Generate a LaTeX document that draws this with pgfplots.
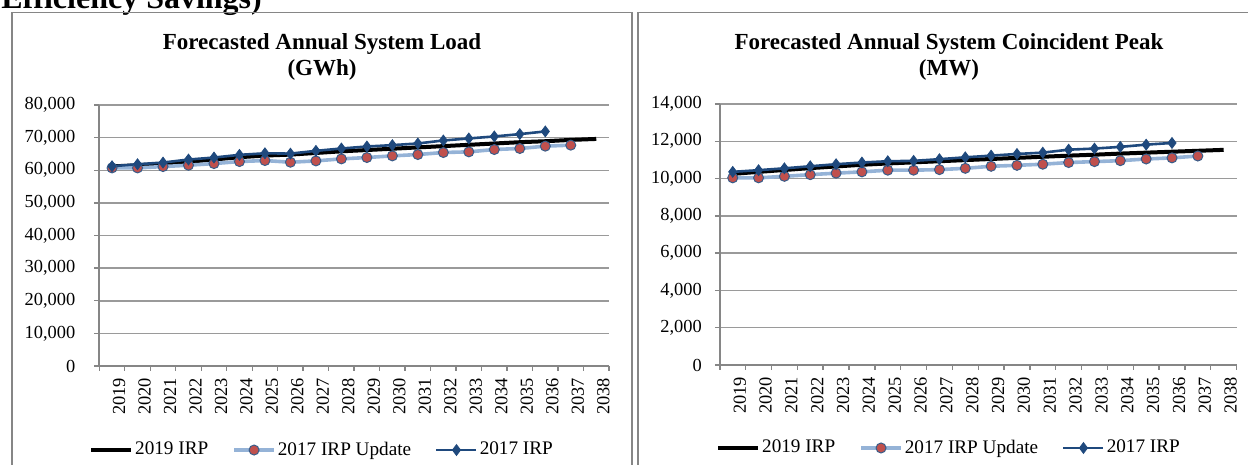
\documentclass[border=0pt]{standalone}
\usepackage{fontspec}
\setmainfont{Liberation Serif}
\usepackage{pgfplots}
\pgfplotsset{compat=1.18}
\definecolor{axisgray}{HTML}{868686}
\definecolor{gridgray}{HTML}{9A9A9A}
\definecolor{updline}{HTML}{95B3D7}
\definecolor{updmark}{HTML}{C0504D}
\definecolor{updedge}{HTML}{385D8A}
\definecolor{irpold}{HTML}{1F497D}

\pgfplotsset{
  irpchart/.style={
    scale only axis,
    xmin=-0.5, xmax=19.5, ymin=0,
    axis x line*=bottom, axis y line*=left,
    axis line style={axisgray, line width=0.8pt},
    ymajorgrids, grid style={gridgray, line width=0.75pt},
    xtick={0,...,19},
    xticklabels={2019,2020,2021,2022,2023,2024,2025,2026,2027,2028,2029,2030,2031,2032,2033,2034,2035,2036,2037,2038},
    xtick style={draw=none},
    extra x ticks={-0.5,0.5,1.5,2.5,3.5,4.5,5.5,6.5,7.5,8.5,9.5,10.5,11.5,12.5,13.5,14.5,15.5,16.5,17.5,18.5,19.5},
    extra x tick labels={},
    extra x tick style={xtick style={draw=axisgray, line width=0.7pt}},
    tick align=outside, major tick length=2.5pt,
    ytick style={draw=axisgray, line width=0.7pt},
    xticklabel style={rotate=90, anchor=east, font=\fontsize{9.2}{10}\selectfont, yshift=-3.5pt},
    yticklabel style={font=\fontsize{9.2}{10}\selectfont},
    scaled y ticks=false,
    /pgf/number format/1000 sep={,},
    /pgf/number format/assume math mode=true,
    legend columns=3,
    legend style={draw=none, fill=none, anchor=center,
      font=\fontsize{9.6}{11}\selectfont,
      /tikz/every even column/.append style={column sep=11pt},
      nodes={inner sep=1pt}},
    legend image code/.code={\draw[mark repeat=2,mark phase=2,##1] plot coordinates {(0pt,0pt) (10pt,0pt) (20pt,0pt)};},
  },
  newirp/.style={black, line width=2pt, no marks},
  updirp/.style={updline, line width=1.8pt, mark=*, mark size=2.5pt,
    mark options={fill=updmark, draw=updedge, line width=0.5pt}},
  oldirp/.style={irpold, line width=1.3pt, mark=diamond*, mark size=2.7pt,
    mark options={fill=irpold, draw=irpold, line width=0.4pt}},
}

\begin{document}
\begin{tikzpicture}[x=1pt,y=1pt]
\useasboundingbox (0,0) rectangle (624,232.5);
\clip (0,0) rectangle (624,232.5);

\node[anchor=base west, inner sep=0pt, font=\fontsize{16}{18}\selectfont\bfseries] at (0.5,228.35) {Efficiency Savings)};

\draw[axisgray, line width=0.8pt] (6,226.15) rectangle (316,-10);
\draw[axisgray, line width=0.8pt] (319,226.15) rectangle (630,-10);

% left chart
\node[anchor=base, inner sep=0pt, font=\fontsize{11.5}{13}\selectfont\bfseries] at (161,207.85) {Forecasted Annual System Load};
\node[anchor=base, inner sep=0pt, font=\fontsize{11.5}{13}\selectfont\bfseries] at (161,194.5) {(GWh)};

\begin{axis}[irpchart,
    at={(49.65pt,49.5pt)}, anchor=south west,
    width=254.85pt, height=130.5pt,
    ymax=80000, ytick={0,10000,20000,30000,40000,50000,60000,70000,80000},
    yticklabel style={xshift=-6pt},
    legend style={at={(0.437,-0.322)}}]
  \addplot[newirp] coordinates {(0,61200)(1,61500)(2,62000)(3,62600)(4,63300)(5,64000)(6,64500)(7,64800)(8,65300)(9,65800)(10,66200)(11,66600)(12,67000)(13,67400)(14,67800)(15,68200)(16,68600)(17,68900)(18,69300)(19,69600)};
  \addplot[updirp] coordinates {(0,60720)(1,60720)(2,61130)(3,61540)(4,62050)(5,62670)(6,62980)(7,62460)(8,62870)(9,63490)(10,63900)(11,64410)(12,64820)(13,65440)(14,65640)(15,66360)(16,66670)(17,67390)(18,67700)};
  \addplot[oldirp] coordinates {(0,61230)(1,61850)(2,62360)(3,63280)(4,63900)(5,64720)(6,65200)(7,65100)(8,65950)(9,66670)(10,67280)(11,67700)(12,68210)(13,69130)(14,69750)(15,70360)(16,71080)(17,71900)};
  \legend{2019 IRP, 2017 IRP Update, 2017 IRP}
\end{axis}

% right chart
\node[anchor=base, inner sep=0pt, font=\fontsize{11.5}{13}\selectfont\bfseries] at (474.5,207.85) {Forecasted Annual System Coincident Peak};
\node[anchor=base, inner sep=0pt, font=\fontsize{11.5}{13}\selectfont\bfseries] at (474.5,194.5) {(MW)};

\begin{axis}[irpchart,
    at={(359.9pt,50pt)}, anchor=south west,
    width=258.4pt, height=130.5pt,
    ymax=14000, ytick={0,2000,4000,6000,8000,10000,12000,14000},
    yticklabel style={xshift=-3pt},
    legend style={at={(0.4435,-0.318)}}]
  \addplot[newirp] coordinates {(0,10250)(1,10360)(2,10460)(3,10560)(4,10650)(5,10740)(6,10810)(7,10870)(8,10930)(9,10990)(10,11050)(11,11110)(12,11170)(13,11230)(14,11280)(15,11340)(16,11390)(17,11440)(18,11490)(19,11540)};
  \addplot[updirp] coordinates {(0,10040)(1,10040)(2,10120)(3,10210)(4,10290)(5,10360)(6,10450)(7,10450)(8,10480)(9,10550)(10,10660)(11,10710)(12,10770)(13,10860)(14,10910)(15,10960)(16,11050)(17,11110)(18,11210)};
  \addplot[oldirp] coordinates {(0,10360)(1,10450)(2,10550)(3,10660)(4,10770)(5,10860)(6,10930)(7,10950)(8,11040)(9,11140)(10,11230)(11,11320)(12,11390)(13,11550)(14,11610)(15,11700)(16,11820)(17,11910)};
  \legend{2019 IRP, 2017 IRP Update, 2017 IRP}
\end{axis}
\end{tikzpicture}
\end{document}
